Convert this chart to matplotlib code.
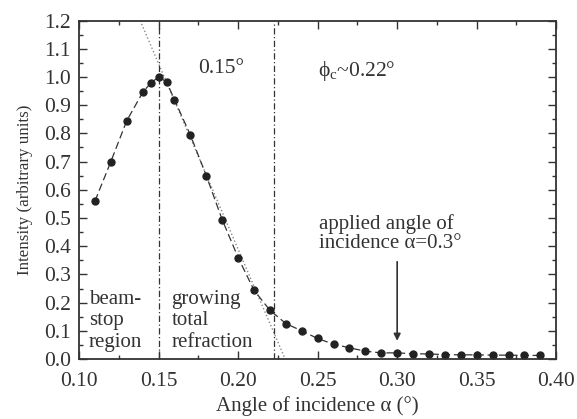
import matplotlib
matplotlib.use("Agg")
import matplotlib.pyplot as plt
from matplotlib.ticker import MultipleLocator

plt.rcParams['font.family'] = ['Liberation Serif', 'DejaVu Serif']
plt.rcParams['mathtext.fontset'] = 'custom'
plt.rcParams['mathtext.rm'] = 'Liberation Serif'
plt.rcParams['mathtext.it'] = 'Liberation Serif:italic'

# measured intensity vs angle of incidence
alpha = [0.11, 0.12, 0.13, 0.14, 0.145, 0.15, 0.155, 0.16, 0.17, 0.18, 0.19,
         0.20, 0.21, 0.22, 0.23, 0.24, 0.25, 0.26, 0.27, 0.28, 0.29, 0.30,
         0.31, 0.32, 0.33, 0.34, 0.35, 0.36, 0.37, 0.38, 0.39]
intensity = [0.56, 0.70, 0.845, 0.945, 0.978, 1.0, 0.983, 0.919, 0.794, 0.650, 0.494,
             0.36, 0.244, 0.173, 0.126, 0.100, 0.073, 0.053, 0.040, 0.028, 0.022, 0.022,
             0.019, 0.018, 0.016, 0.015, 0.015, 0.014, 0.014, 0.013, 0.013]

# linear extrapolation of the falling edge
lin_x = [0.1384, 0.2296]
lin_y = [1.2, 0.0]

vlines = [0.15, 0.2225]

tc = '#333333'
fig = plt.figure(figsize=(5.77, 4.19), dpi=100)
ax = fig.add_axes([0.137, 0.143, 0.827, 0.808])

ax.plot(lin_x, lin_y, color='#888888', linestyle=':', linewidth=1.0)
for v in vlines:
    ax.axvline(v, color=tc, linestyle='-.', linewidth=0.9, dashes=(5, 2, 1, 2))
ax.plot(alpha, intensity, color=tc, linestyle='--', dashes=(6, 3), linewidth=0.9)
ax.plot(alpha, intensity, 'o', color='#222222', markersize=5, linestyle='none')

ax.set_xlim(0.10, 0.40)
ax.set_ylim(0.0, 1.2)
ax.xaxis.set_major_locator(MultipleLocator(0.05))
ax.xaxis.set_minor_locator(MultipleLocator(0.025))
ax.yaxis.set_major_locator(MultipleLocator(0.1))
ax.yaxis.set_minor_locator(MultipleLocator(0.05))
ax.xaxis.set_major_formatter(plt.FormatStrFormatter('%.2f'))
ax.yaxis.set_major_formatter(plt.FormatStrFormatter('%.1f'))
ax.tick_params(which='both', direction='in', top=True, right=True, labelsize=15.5, colors=tc)
ax.tick_params(axis='x', which='major', pad=9)
ax.tick_params(axis='y', which='major', pad=6)
ax.tick_params(which='major', length=6, width=1.0)
ax.tick_params(which='minor', length=3, width=1.0)
for s in ax.spines.values():
    s.set_linewidth(1.3)
    s.set_color(tc)

ax.set_xlabel('Angle of incidence α (°)', fontsize=15, color=tc, labelpad=4)
ax.set_ylabel('Intensity (arbitrary units)', fontsize=12.2, color=tc, labelpad=8)

ax.text(0.175, 1.03, '0.15°', fontsize=15.5, color=tc, va='center')
ax.text(0.250, 1.02, '$\\mathrm{\\phi_c}$~0.22°', fontsize=15.5, color=tc, va='center')
ax.text(0.251, 0.445, 'applied angle of\nincidence α=0.3°', fontsize=15,
        color=tc, va='center', linespacing=1.05)
ax.annotate('', xy=(0.30, 0.055), xytext=(0.30, 0.355),
            arrowprops=dict(arrowstyle='-|>', color=tc, lw=1.2, mutation_scale=10))
ax.text(0.1063, 0.135, 'beam-\nstop\nregion', fontsize=15, color=tc, va='center', linespacing=1.2)
ax.text(0.158, 0.135, 'growing\ntotal\nrefraction', fontsize=15, color=tc, va='center', linespacing=1.2)

fig.savefig('out.png', dpi=100)
